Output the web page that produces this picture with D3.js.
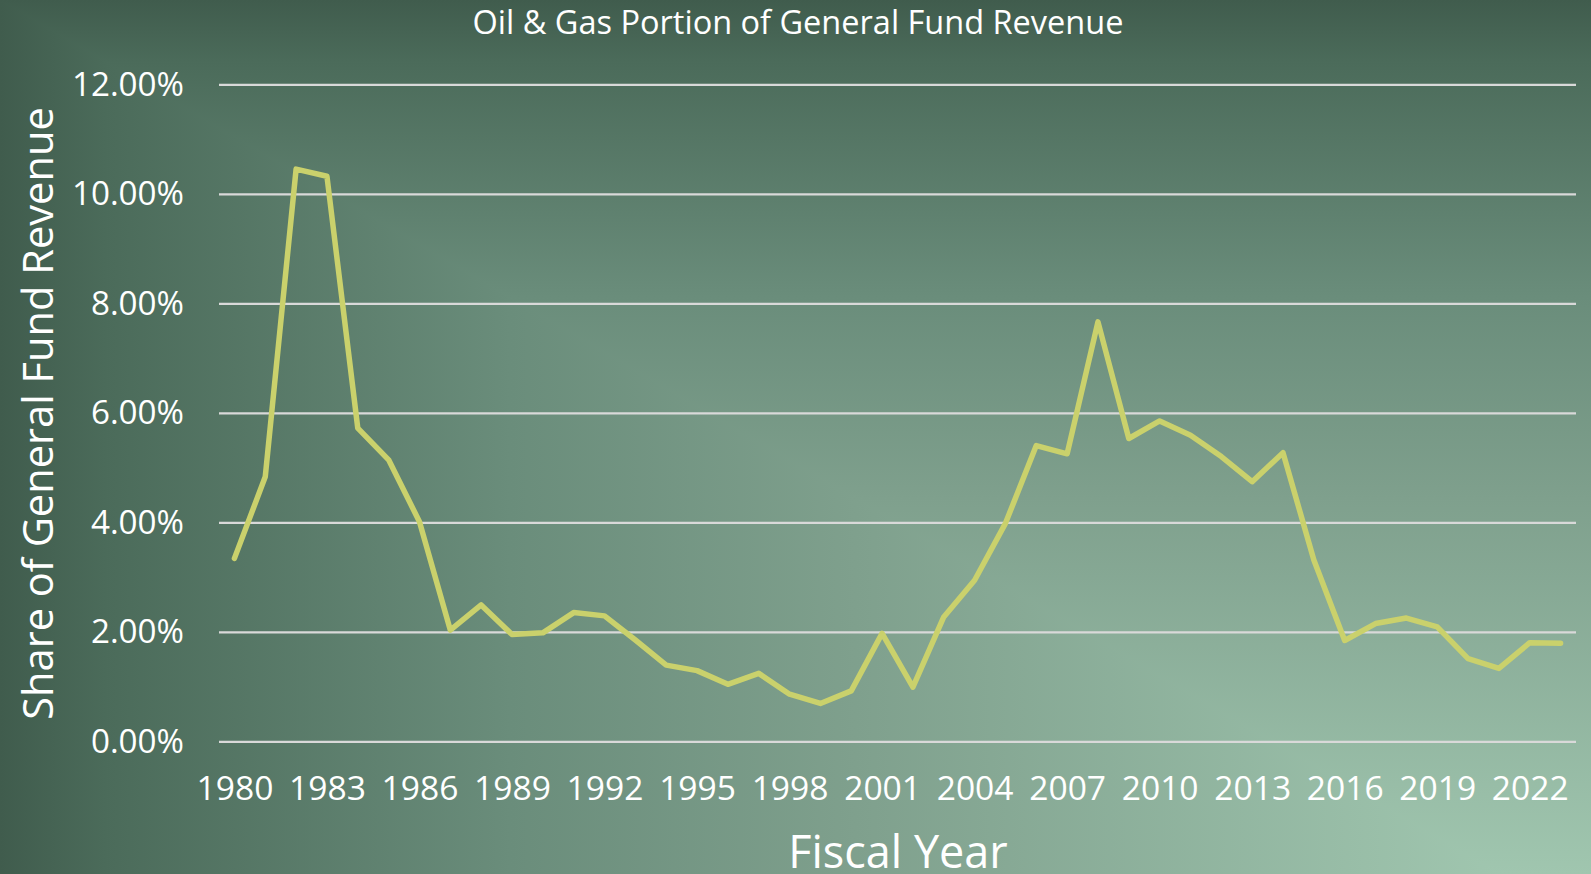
<!DOCTYPE html>
<html>
<head>
<meta charset="utf-8">
<script src="https://cdn.jsdelivr.net/npm/d3@7"></script>
<style>
  html, body { margin: 0; padding: 0; background: #4a6a5a; overflow: hidden; }
  svg { display: block; font-family: "Open Sans", "Noto Sans", sans-serif; }
</style>
</head>
<body>
<div id="chart"></div>
<script>
// fiscal years and oil & gas share of general fund revenue (fraction)
var years = d3.range(1980, 2024);
var shares = [
  0.0335, 0.0484, 0.1046, 0.1033, 0.0573, 0.0515, 0.0402, 0.0204, 0.0250, 0.0196,
  0.0199, 0.0236, 0.0230, 0.0186, 0.0140, 0.0130, 0.0105, 0.0125, 0.0087, 0.0070,
  0.0093, 0.0198, 0.0100, 0.0228, 0.0295, 0.0399, 0.0541, 0.0526, 0.0767, 0.0554,
  0.0586, 0.0560, 0.0521, 0.0475, 0.0528, 0.0332, 0.0185, 0.0216, 0.0226, 0.0210,
  0.0152, 0.0134, 0.0181, 0.0180
];
var yTicks = [0, 0.02, 0.04, 0.06, 0.08, 0.10, 0.12];
var xTickYears = d3.range(1980, 2023, 3);

var data = years.map(function(y, i) { return {year: y, share: shares[i]}; });

var W = 1591, H = 874;
var margin = {top: 84.8, right: 15, bottom: 132.2, left: 219};

var svg = d3.select("#chart").append("svg")
    .attr("width", W)
    .attr("height", H);

// background: rectangular ("path") gradient, lightest at bottom-right
var defs = svg.append("defs");
var stops = [
  [0, "#a0c6af"], [0.43, "#7fa08d"], [0.66, "#6a8d7b"], [0.93, "#4b6b5a"], [1, "#405c4d"]
];
var gh = defs.append("linearGradient").attr("id", "bgH")
    .attr("gradientUnits", "userSpaceOnUse")
    .attr("x1", 1500).attr("y1", 0).attr("x2", 0).attr("y2", 0);
var gv = defs.append("linearGradient").attr("id", "bgV")
    .attr("gradientUnits", "userSpaceOnUse")
    .attr("x1", 0).attr("y1", H).attr("x2", 0).attr("y2", 0);
stops.forEach(function(s) {
  gh.append("stop").attr("offset", s[0]).attr("stop-color", s[1]);
  gv.append("stop").attr("offset", s[0]).attr("stop-color", s[1]);
});
var bg = svg.append("g").style("isolation", "isolate");
bg.append("rect").attr("width", W).attr("height", H).attr("fill", "url(#bgH)");
bg.append("rect").attr("width", W).attr("height", H).attr("fill", "url(#bgV)")
    .style("mix-blend-mode", "darken");

// scales
var x = d3.scalePoint()
    .domain(years)
    .range([margin.left, W - margin.right])
    .padding(0.5);
var y = d3.scaleLinear()
    .domain([0, 0.12])
    .range([H - margin.bottom, margin.top]);

// gridlines
svg.append("g")
    .selectAll("line")
    .data(yTicks)
    .enter().append("line")
    .attr("x1", margin.left)
    .attr("x2", W - margin.right)
    .attr("y1", function(d) { return y(d); })
    .attr("y2", function(d) { return y(d); })
    .attr("stroke", "#d9d9d9")
    .attr("stroke-width", 2.2);

// y axis labels
var fmt = d3.format(".2%");
var yAxis = d3.axisLeft(y).tickValues(yTicks).tickFormat(fmt).tickSize(0).tickPadding(0);
var gy = svg.append("g")
    .attr("transform", "translate(184,0)")
    .call(yAxis);
gy.select(".domain").remove();
gy.selectAll("text")
    .attr("fill", "#ffffff")
    .attr("font-size", 33.2)
    .attr("font-family", "'Open Sans', sans-serif");

// x axis labels
var xAxis = d3.axisBottom(x).tickValues(xTickYears).tickSize(0).tickPadding(0);
var gx = svg.append("g")
    .attr("transform", "translate(0,776)")
    .call(xAxis);
gx.select(".domain").remove();
gx.selectAll("text")
    .attr("fill", "#ffffff")
    .attr("font-size", 33.6)
    .attr("font-family", "'Open Sans', sans-serif");

// line
var line = d3.line()
    .x(function(d) { return x(d.year); })
    .y(function(d) { return y(d.share); });

svg.append("path")
    .datum(data)
    .attr("d", line)
    .attr("fill", "none")
    .attr("stroke", "#cad16c")
    .attr("stroke-width", 5.5)
    .attr("stroke-linejoin", "round")
    .attr("stroke-linecap", "round");

// titles
svg.append("text")
    .attr("x", 798)
    .attr("y", 34)
    .attr("text-anchor", "middle")
    .attr("fill", "#ffffff")
    .attr("font-size", 32.5)
    .text("Oil & Gas Portion of General Fund Revenue");

svg.append("text")
    .attr("transform", "translate(53," + ((109 + 718) / 2) + ") rotate(-90)")
    .attr("text-anchor", "middle")
    .attr("fill", "#ffffff")
    .attr("font-size", 41.6)
    .text("Share of General Fund Revenue");

svg.append("text")
    .attr("x", 898)
    .attr("y", 868)
    .attr("text-anchor", "middle")
    .attr("fill", "#ffffff")
    .attr("font-size", 45)
    .text("Fiscal Year");
</script>
</body>
</html>
